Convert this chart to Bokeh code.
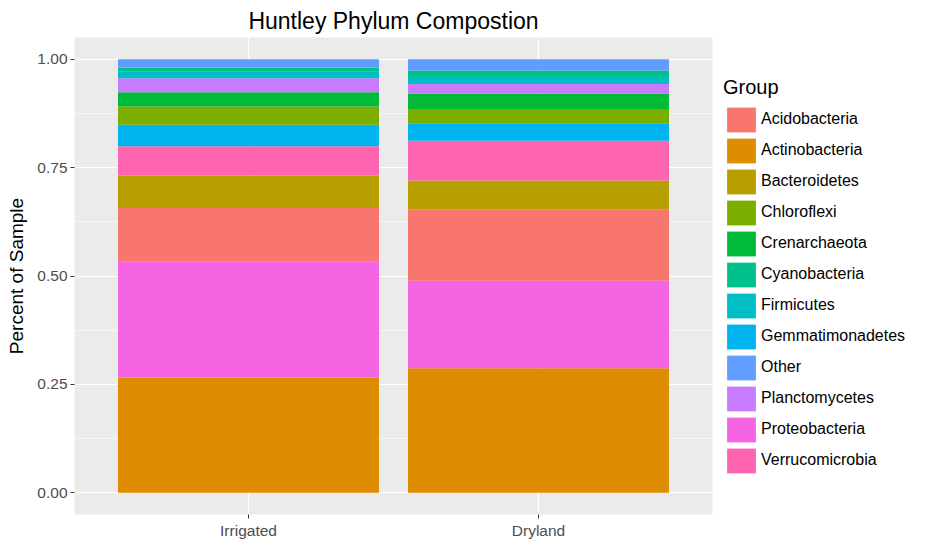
from bokeh.plotting import figure
from bokeh.models import (ColumnDataSource, Range1d, FixedTicker, Legend, LegendItem,
                          NumeralTickFormatter)
from bokeh.embed import file_html
from bokeh.resources import INLINE

# ---- data ----
samples = ["Irrigated", "Dryland"]
# stacking order (bottom -> top)
stack_order = ["Actinobacteria", "Proteobacteria", "Acidobacteria", "Bacteroidetes",
               "Verrucomicrobia", "Gemmatimonadetes", "Chloroflexi", "Crenarchaeota",
               "Planctomycetes", "Firmicutes", "Cyanobacteria", "Other"]
Actinobacteria = [0.266, 0.287]
Proteobacteria = [0.268, 0.202]
Acidobacteria = [0.123, 0.164]
Bacteroidetes = [0.075, 0.067]
Verrucomicrobia = [0.067, 0.092]
Gemmatimonadetes = [0.050, 0.040]
Chloroflexi = [0.042, 0.033]
Crenarchaeota = [0.033, 0.035]
Planctomycetes = [0.032, 0.023]
Firmicutes = [0.015, 0.016]
Cyanobacteria = [0.009, 0.015]
Other = [0.020, 0.026]

legend_groups = ["Acidobacteria", "Actinobacteria", "Bacteroidetes", "Chloroflexi",
                 "Crenarchaeota", "Cyanobacteria", "Firmicutes", "Gemmatimonadetes",
                 "Other", "Planctomycetes", "Proteobacteria", "Verrucomicrobia"]
group_colors = ["#F8766D", "#DE8C00", "#B79F00", "#7CAE00", "#00BA38", "#00C08B",
                "#00BFC4", "#00B4F0", "#619CFF", "#C77CFF", "#F564E3", "#FF64B0"]
y_ticks = [0.0, 0.25, 0.5, 0.75, 1.0]
y_minor = [0.125, 0.375, 0.625, 0.875]

values = {
    "Actinobacteria": Actinobacteria, "Proteobacteria": Proteobacteria,
    "Acidobacteria": Acidobacteria, "Bacteroidetes": Bacteroidetes,
    "Verrucomicrobia": Verrucomicrobia, "Gemmatimonadetes": Gemmatimonadetes,
    "Chloroflexi": Chloroflexi, "Crenarchaeota": Crenarchaeota,
    "Planctomycetes": Planctomycetes, "Firmicutes": Firmicutes,
    "Cyanobacteria": Cyanobacteria, "Other": Other,
}
color_of = dict(zip(legend_groups, group_colors))

xpos = [i + 1 for i in range(len(samples))]
data = {"x": xpos}
data.update(values)
source = ColumnDataSource(data)

FONT = "Liberation Sans"

p = figure(frame_width=638, frame_height=477, output_backend="svg", toolbar_location=None,
           x_range=Range1d(0.4, len(samples) + 0.6), y_range=Range1d(-0.05, 1.05),
           min_border_left=74, min_border_right=0, min_border_top=37,
           min_border_bottom=26)
p.outline_line_color = None
p.background_fill_color = "#EBEBEB"
p.border_fill_color = "white"

renderers = p.vbar_stack(stack_order, x="x", width=0.9, source=source,
                         color=[color_of[g] for g in stack_order], line_color=None)
rmap = dict(zip(stack_order, renderers))

# title
p.title.text = "Huntley Phylum Compostion"
p.title.align = "center"
p.title.text_font = FONT
p.title.text_font_size = "23px"
p.title.text_font_style = "normal"
p.title.text_color = "black"
p.title.standoff = 7

# axes
p.xaxis.ticker = FixedTicker(ticks=xpos)
p.xaxis.major_label_overrides = {x: s for x, s in zip(xpos, samples)}
p.yaxis.ticker = FixedTicker(ticks=y_ticks, minor_ticks=y_minor)
p.yaxis.formatter = NumeralTickFormatter(format="0.00")
for ax in (p.xaxis[0], p.yaxis[0]):
    ax.axis_line_color = None
    ax.major_tick_line_color = "#333333"
    ax.major_tick_out = 4
    ax.major_tick_in = 0
    ax.minor_tick_line_color = None
    ax.major_label_text_color = "#4D4D4D"
    ax.major_label_text_font = FONT
    ax.major_label_text_font_size = "15.5px"
    ax.major_label_standoff = 3
p.yaxis.axis_label = "Percent of Sample"
p.yaxis.axis_label_text_font = FONT
p.yaxis.axis_label_text_font_size = "19px"
p.yaxis.axis_label_text_font_style = "normal"
p.yaxis.axis_label_text_color = "black"
p.yaxis.axis_label_standoff = 7

# grid
p.xgrid.ticker = FixedTicker(ticks=xpos)
p.ygrid.ticker = FixedTicker(ticks=y_ticks, minor_ticks=y_minor)
for g in (p.xgrid[0], p.ygrid[0]):
    g.grid_line_color = "white"
    g.grid_line_width = 1.2
p.ygrid.minor_grid_line_color = "white"
p.ygrid.minor_grid_line_width = 0.6
p.xgrid.level = "underlay"
p.ygrid.level = "underlay"

# legend
items = [LegendItem(label=g, renderers=[rmap[g]]) for g in legend_groups]
legend = Legend(items=items, location="left", title="Group",
                title_text_font=FONT, title_text_font_size="20px",
                title_text_font_style="normal", title_text_color="black",
                title_standoff=5,
                label_text_font=FONT, label_text_font_size="16px",
                label_text_color="black", label_standoff=2,
                glyph_width=36, glyph_height=31, label_height=28, spacing=0,
                padding=0, margin=11, border_line_color=None,
                background_fill_alpha=0)
p.add_layout(legend, "right")

open("out.html", "w").write(file_html(p, INLINE))
